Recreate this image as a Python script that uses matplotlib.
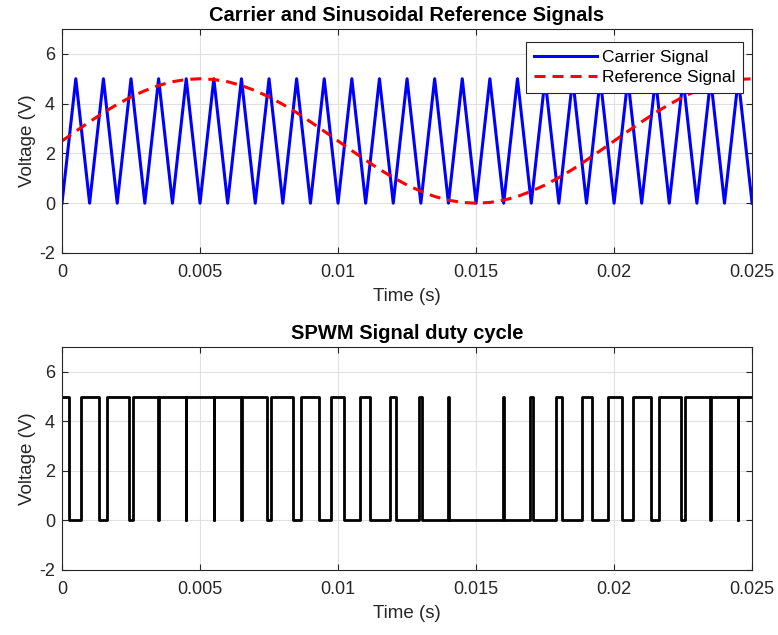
import numpy as np
import matplotlib
matplotlib.use("Agg")
from matplotlib import pyplot as plt

# ---- data (times in ms, voltages in V) ----
carrier_time_ms = [0, 0.5, 1, 1.5, 2, 2.5, 3, 3.5, 4, 4.5, 5, 5.5, 6, 6.5, 7, 7.5,
                   8, 8.5, 9, 9.5, 10, 10.5, 11, 11.5, 12, 12.5, 13, 13.5, 14, 14.5,
                   15, 15.5, 16, 16.5, 17, 17.5, 18, 18.5, 19, 19.5, 20, 20.5, 21,
                   21.5, 22, 22.5, 23, 23.5, 24, 24.5, 25]
carrier_volt = [0, 5, 0, 5, 0, 5, 0, 5, 0, 5, 0, 5, 0, 5, 0, 5, 0, 5, 0, 5, 0, 5,
                0, 5, 0, 5, 0, 5, 0, 5, 0, 5, 0, 5, 0, 5, 0, 5, 0, 5, 0, 5, 0, 5,
                0, 5, 0, 5, 0, 5, 0]

ref_time_ms = carrier_time_ms
ref_volt = [2.50, 2.89, 3.27, 3.64, 3.97, 4.27, 4.52, 4.73, 4.88, 4.97, 5.00,
            4.97, 4.88, 4.73, 4.52, 4.27, 3.97, 3.64, 3.27, 2.89, 2.50,
            2.11, 1.73, 1.36, 1.03, 0.73, 0.48, 0.27, 0.12, 0.03, 0.00,
            0.03, 0.12, 0.27, 0.48, 0.73, 1.03, 1.36, 1.73, 2.11, 2.50,
            2.89, 3.27, 3.64, 3.97, 4.27, 4.52, 4.73, 4.88, 4.97, 5.00]

# SPWM low intervals (start, end) in ms; signal is 5 V elsewhere
pwm_low_start = [0.271, 1.353, 2.422, 3.472, 4.497, 5.497, 6.474, 7.431, 8.372,
                 9.304, 10.232, 11.161, 12.097, 13.046, 14.012, 16.013, 17.050,
                 18.110, 19.187, 20.271, 21.353, 22.422, 23.472, 24.497]
pwm_low_end = [0.696, 1.628, 2.569, 3.526, 4.503, 5.503, 6.528, 7.578, 8.647,
               9.729, 10.813, 11.890, 12.950, 13.987, 15.988, 16.954, 17.903,
               18.839, 19.768, 20.696, 21.628, 22.569, 23.526, 24.503]
pwm_high = 5
pwm_end_ms = 25

xticks = [0, 0.005, 0.01, 0.015, 0.02, 0.025]
xtick_labels = ["0", "0.005", "0.01", "0.015", "0.02", "0.025"]
yticks = [-2, 0, 2, 4, 6]

# build step waveform
pwm_t = [0]
pwm_v = [pwm_high]
for a, b in zip(pwm_low_start, pwm_low_end):
    pwm_t += [a, a, b, b]
    pwm_v += [pwm_high, 0, 0, pwm_high]
pwm_t.append(pwm_end_ms)
pwm_v.append(pwm_high)

plt.rcParams["font.family"] = ["Liberation Sans", "DejaVu Sans"]
plt.rcParams["axes.unicode_minus"] = False
fig = plt.figure(figsize=(7.78, 6.35), dpi=100)

ax1 = fig.add_axes([0.0797, 0.6016, 0.887, 0.3528])
ax2 = fig.add_axes([0.0797, 0.1024, 0.887, 0.3512])

ax1.plot(np.array(carrier_time_ms) / 1000, carrier_volt, color="#0000ff", lw=2.2,
         label="Carrier Signal")
ax1.plot(np.array(ref_time_ms) / 1000, ref_volt, color="#ff0000", lw=2.2,
         ls=(0, (3.6, 2.3)), label="Reference Signal")
ax1.set_title("Carrier and Sinusoidal Reference Signals", fontsize=14.5,
              fontweight="bold", pad=5.5)
leg = ax1.legend(loc="upper right", bbox_to_anchor=(0.987, 0.942), fontsize=12.5,
                 fancybox=False, framealpha=1, edgecolor="#262626",
                 handlelength=3.6, borderpad=0.45, labelspacing=0.3,
                 handletextpad=0.3, borderaxespad=0)
leg.get_frame().set_linewidth(0.8)

ax2.plot(np.array(pwm_t) / 1000, pwm_v, color="black", lw=2.0)
ax2.set_title("SPWM Signal duty cycle", fontsize=14.5, fontweight="bold", pad=6)

for ax in (ax1, ax2):
    ax.set_xlim(0, 0.025)
    ax.set_ylim(-2, 7)
    ax.set_xticks(xticks)
    ax.set_xticklabels(xtick_labels)
    ax.set_yticks(yticks)
    ax.set_xlabel("Time (s)", fontsize=13.5, color="#262626", labelpad=5)
    ax.set_ylabel("Voltage (V)", fontsize=13.5, color="#262626", labelpad=2)
    ax.grid(True, color="#e0e0e0", lw=0.8)
    ax.set_axisbelow(True)
    ax.tick_params(direction="in", top=True, right=True, length=4,
                   labelsize=13, labelcolor="#262626", color="#262626")
    ax.tick_params(axis="x", pad=8)
    ax.tick_params(axis="y", pad=5)
    for s in ax.spines.values():
        s.set_color("#262626")
        s.set_linewidth(0.8)

fig.savefig("out.png", dpi=100)
